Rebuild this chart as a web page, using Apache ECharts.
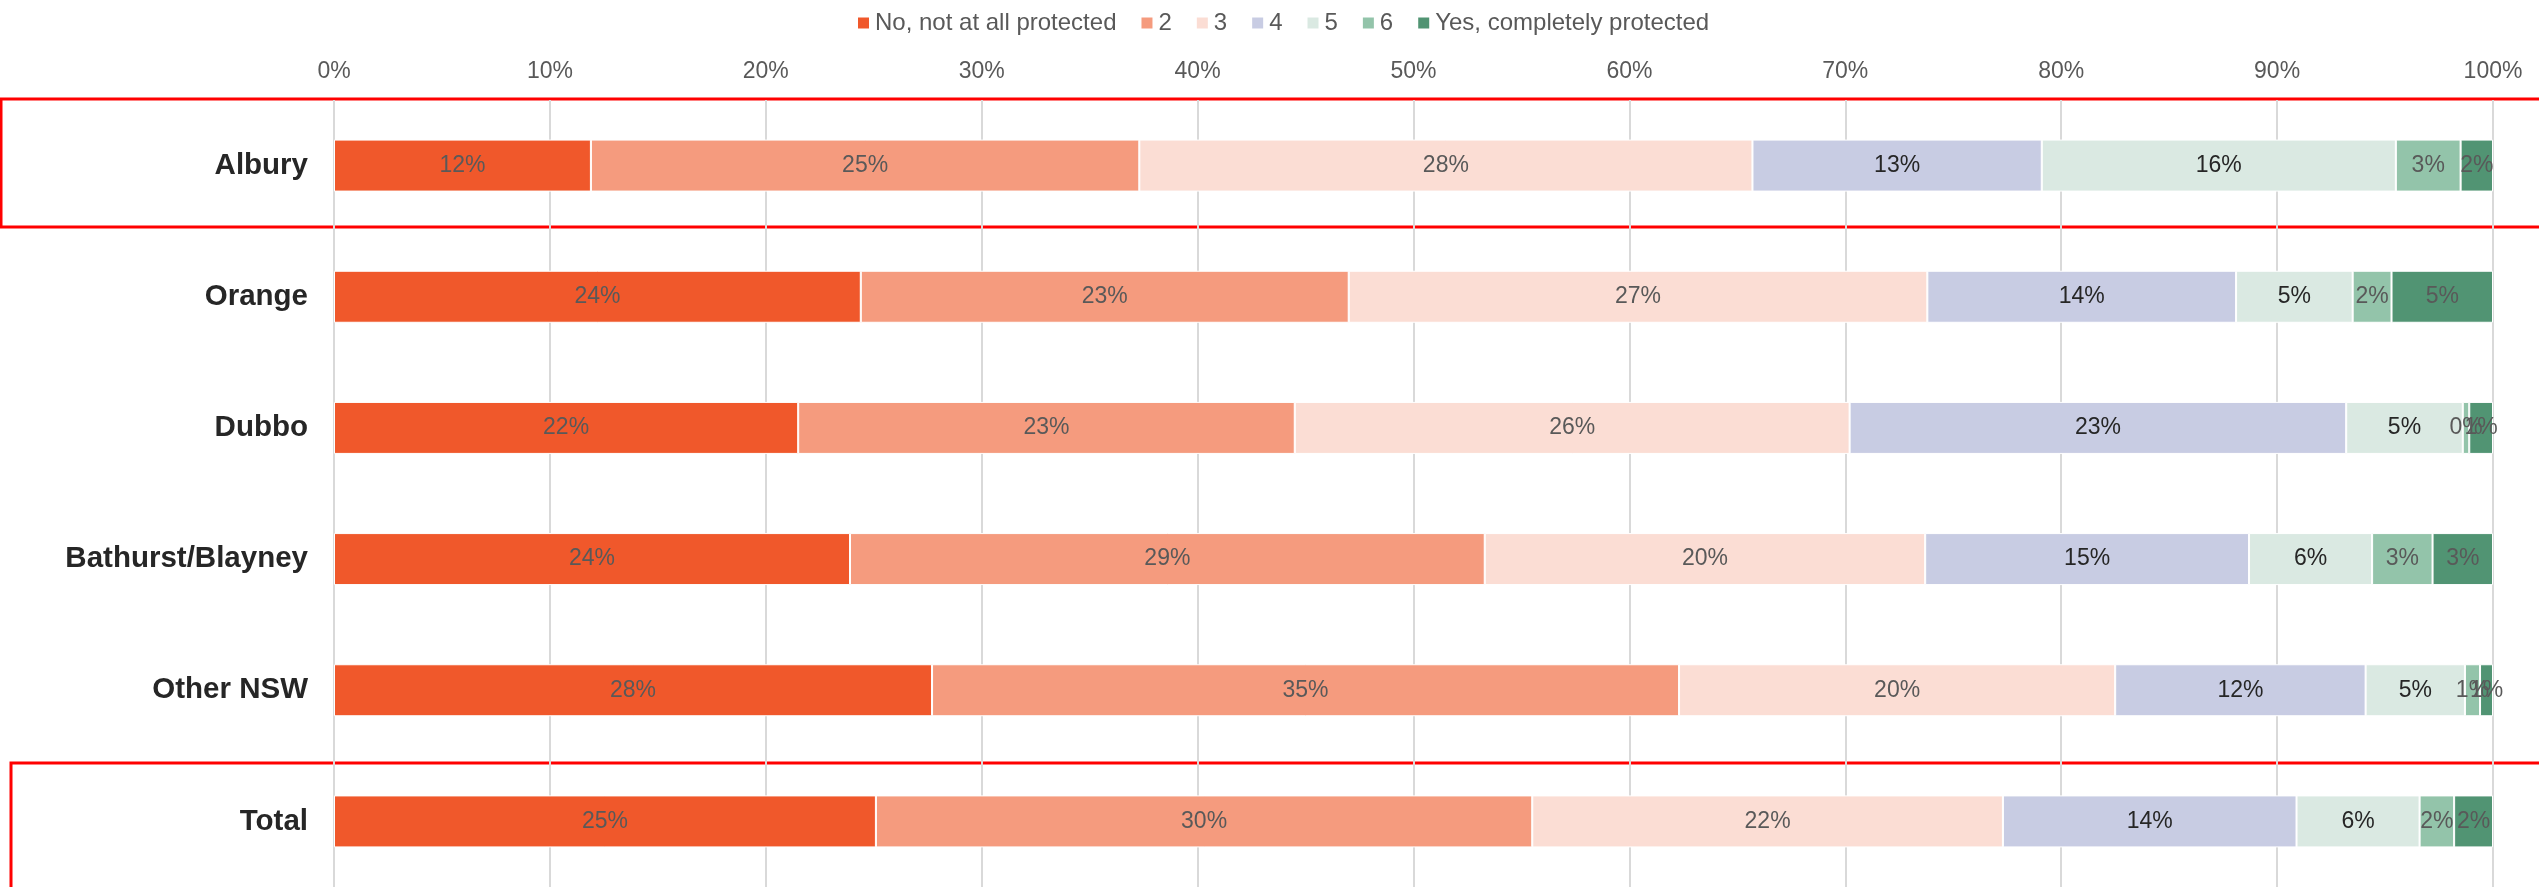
<!DOCTYPE html>
<html>
<head>
<meta charset="utf-8">
<title>Protection rating by region</title>
<script src="https://cdn.jsdelivr.net/npm/echarts@6/dist/echarts.min.js"></script>
<style>
  html, body { margin: 0; padding: 0; background: #ffffff; }
  #chart { width: 2539px; height: 887px; }
</style>
</head>
<body>
<div id="chart"></div>
<script>
// Regions (top to bottom)
const regions = ['Albury', 'Orange', 'Dubbo', 'Bathurst/Blayney', 'Other NSW', 'Total'];

// Response scale, 1 = not at all protected ... 7 = completely protected
const seriesNames = ['No, not at all protected', '2', '3', '4', '5', '6', 'Yes, completely protected'];

// Share of respondents (%) per response, one array per rating, ordered as regions
const rating1 = [11.9, 24.4, 21.5, 23.9, 27.7, 25.1];
const rating2 = [25.4, 22.6, 23.0, 29.4, 34.6, 30.4];
const rating3 = [28.4, 26.8, 25.7, 20.4, 20.2, 21.8];
const rating4 = [13.4, 14.3, 23.0, 15.0, 11.6, 13.6];
const rating5 = [16.4, 5.4, 5.4, 5.7, 4.6, 5.7];
const rating6 = [3.0, 1.8, 0.3, 2.8, 0.7, 1.6];
const rating7 = [1.5, 4.7, 1.1, 2.8, 0.6, 1.8];

// Percentage axis ticks
const axisTicks = [0, 10, 20, 30, 40, 50, 60, 70, 80, 90, 100];

const ratingValues = [rating1, rating2, rating3, rating4, rating5, rating6, rating7];
const colors = ['#F0582B', '#F59B7E', '#FBDDD4', '#C8CCE3', '#DAE9E2', '#93C4AA', '#519473'];
const labelColors = ['#595959', '#595959', '#595959', '#262626', '#262626', '#595959', '#595959'];

const FONT = "'Liberation Sans', Arial, sans-serif";

const chart = echarts.init(document.getElementById('chart'), null, { renderer: 'canvas' });

const series = ratingValues.map((vals, i) => ({
  name: seriesNames[i],
  type: 'bar',
  stack: 'total',
  barWidth: 52,
  data: vals,
  itemStyle: { color: colors[i], borderColor: '#ffffff', borderWidth: 1 },
  label: {
    show: true,
    position: 'inside',
    fontFamily: FONT,
    fontSize: 23,
    color: labelColors[i],
    formatter: p => Math.round(p.value) + '%'
  },
  emphasis: { disabled: true },
  animation: false
}));

chart.setOption({
  backgroundColor: '#ffffff',
  animation: false,
  textStyle: { fontFamily: FONT },
  legend: {
    data: seriesNames,
    top: 6,
    left: 851,
    icon: 'rect',
    itemWidth: 13,
    itemHeight: 13,
    itemGap: 23,
    textStyle: { fontFamily: FONT, fontSize: 24, color: '#595959' },
    selectedMode: false
  },
  grid: { left: 334, right: 46, top: 100, height: 792, containLabel: false },
  xAxis: {
    type: 'value',
    position: 'top',
    min: axisTicks[0],
    max: axisTicks[axisTicks.length - 1],
    interval: axisTicks[1] - axisTicks[0],
    axisLine: { show: false },
    axisTick: { show: false },
    axisLabel: {
      margin: 17,
      fontFamily: FONT,
      fontSize: 23,
      color: '#595959',
      formatter: v => v + '%'
    },
    splitLine: { show: true, lineStyle: { color: '#D9D9D9', width: 2 } }
  },
  yAxis: {
    type: 'category',
    data: regions,
    inverse: true,
    axisLine: { show: false },
    axisTick: { show: false },
    axisLabel: {
      margin: 26,
      fontFamily: FONT,
      fontSize: 29.5,
      fontWeight: 'bold',
      color: '#262626'
    }
  },
  series: series,
  graphic: [
    {
      type: 'rect',
      shape: { x: 1, y: 99, width: 2600, height: 128 },
      style: { fill: 'none', stroke: '#FF0000', lineWidth: 3 },
      silent: true
    },
    {
      type: 'rect',
      shape: { x: 11, y: 763, width: 2600, height: 200 },
      style: { fill: 'none', stroke: '#FF0000', lineWidth: 3 },
      silent: true
    }
  ]
});
</script>
</body>
</html>
